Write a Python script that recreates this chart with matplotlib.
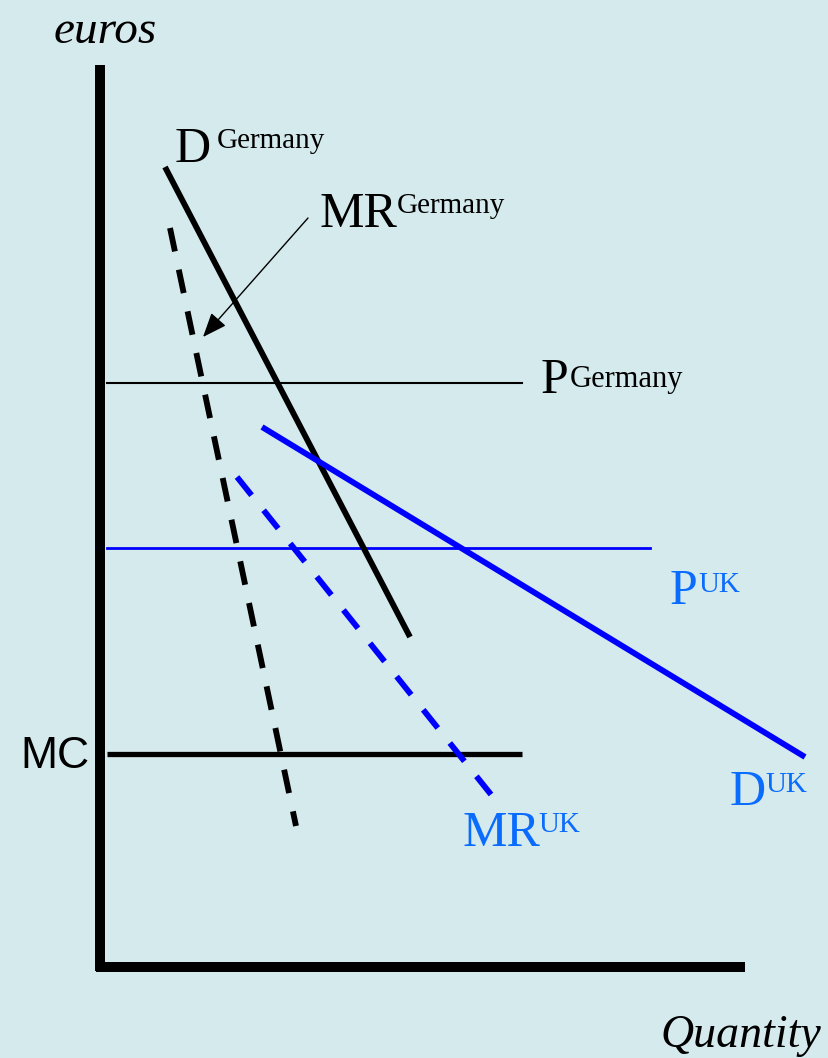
import matplotlib
matplotlib.use("Agg")
import matplotlib.pyplot as plt

# Schematic coordinates: quantity (q) to the right, euros (p) upward, origin at the axis corner
axis_q = [0, 645]
axis_p = [0, 902]

d_germany_q = [65, 310]
d_germany_p = [800, 330]
mr_germany_q = [70, 196]
mr_germany_p = [739, 141]
p_germany = 584
p_germany_q = [7, 422]

d_uk_q = [162, 705]
d_uk_p = [540, 210]
mr_uk_q = [137, 393]
mr_uk_p = [490, 170]
p_uk = 419
p_uk_q = [7, 550]

mc = 213
mc_q = [7, 422]

BG = "#D5EAED"
BLUE = "#0000FF"
LBLUE = "#0A6CFF"
SERIF = "Liberation Serif"

fig = plt.figure(figsize=(8.29, 10.58), dpi=100, facecolor=BG)
ax = fig.add_axes([0, 0, 1, 1])
ax.set_facecolor(BG)
ax.set_xlim(-100, 729)
ax.set_ylim(-91, 967)
ax.axis("off")

# axes
ax.plot([0, 0], [axis_p[0] - 4, axis_p[1]], color="black", lw=7.2, solid_capstyle="butt")
ax.plot([axis_q[0] - 3.5, axis_q[1]], [0, 0], color="black", lw=7.2, solid_capstyle="butt")

# horizontal price / cost lines
ax.plot(p_germany_q, [p_germany] * 2, color="black", lw=1.5)
ax.plot(p_uk_q, [p_uk] * 2, color=BLUE, lw=2.0)
ax.plot(mc_q, [mc] * 2, color="black", lw=3.8, solid_capstyle="butt")

# demand and marginal revenue
LW = 4.2
ax.plot(d_germany_q, d_germany_p, color="black", lw=LW, solid_capstyle="butt")
ax.plot(mr_germany_q, mr_germany_p, color="black", lw=LW, dashes=(4.1, 3.2), dash_capstyle="butt")
ax.plot(d_uk_q, d_uk_p, color=BLUE, lw=LW, solid_capstyle="butt")
ax.plot(mr_uk_q, mr_uk_p, color=BLUE, lw=LW, dashes=(4.0, 3.3), dash_capstyle="butt")

# arrow pointing to MR Germany
ax.annotate("", xy=(103, 630), xytext=(208, 749),
            arrowprops=dict(arrowstyle="-|>,head_length=1.5,head_width=0.6",
                            color="black", lw=1.0, shrinkA=0, shrinkB=0))

def label(x, y, main, sup, sx, sy, color="black", size=36, ssize=21):
    ax.text(x, y, main, family=SERIF, fontsize=size, color=color, ha="left", va="baseline")
    ax.text(sx, sy, sup, family=SERIF, fontsize=ssize, color=color, ha="left", va="baseline")

label(75, 805, "D", "Germany", 217 - 100, 819)
label(220, 740, "MR", "Germany", 397 - 100, 754)
label(441, 574, "P", "Germany", 570 - 100, 580, ssize=22)
label(570, 363, "P", "UK", 598, 375, color=LBLUE)
label(630, 162, "D", "UK", 665, 175, color=LBLUE)
label(363, 121, "MR", "UK", 438, 135, color=LBLUE)

ax.text(-10, 199, "MC", family="Liberation Sans", fontsize=32, color="black",
        ha="right", va="baseline")
ax.text(5, 924, "euros", family=SERIF, style="italic", fontsize=34, color="black",
        ha="center", va="baseline")
ax.text(560, -80, "Quantity", family=SERIF, style="italic", fontsize=33, color="black",
        ha="left", va="baseline")

fig.savefig("out.png", dpi=100, facecolor=BG)
